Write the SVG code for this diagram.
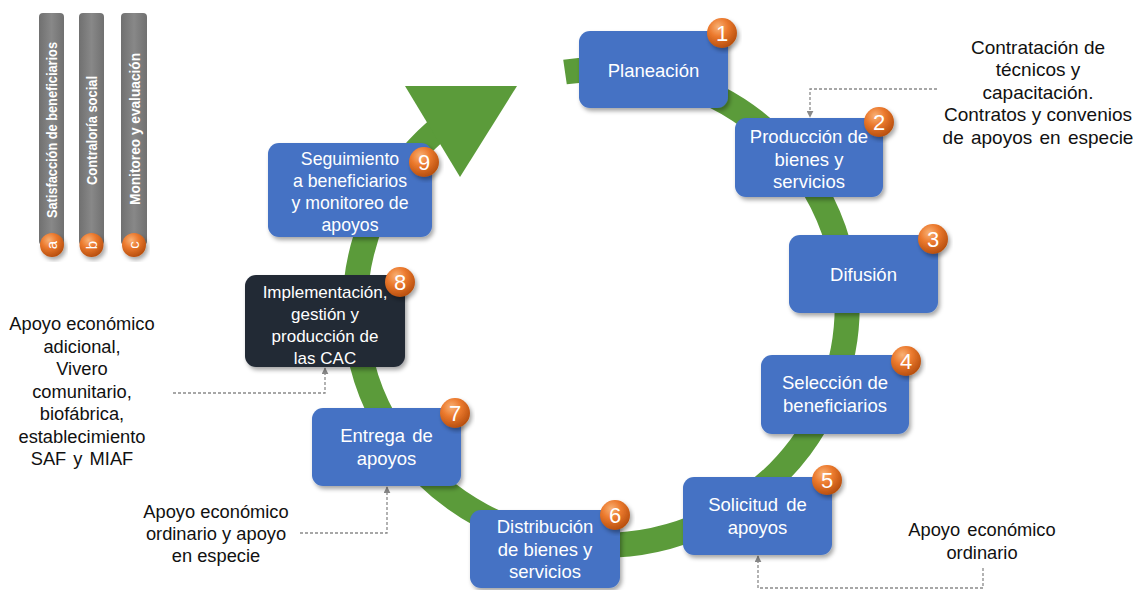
<svg xmlns="http://www.w3.org/2000/svg" width="1133" height="590" viewBox="0 0 1133 590">
<defs>
  <filter id="sh" x="-10%" y="-10%" width="125%" height="130%">
    <feDropShadow dx="2" dy="3" stdDeviation="2" flood-color="#000" flood-opacity="0.35"/>
  </filter>
  <radialGradient id="og" cx="38%" cy="30%" r="70%">
    <stop offset="0%" stop-color="#f8b276"/>
    <stop offset="45%" stop-color="#ec7a2e"/>
    <stop offset="100%" stop-color="#b9500f"/>
  </radialGradient>
  <linearGradient id="bg" x1="0" y1="0" x2="1" y2="0">
    <stop offset="0%" stop-color="#707070"/>
    <stop offset="50%" stop-color="#888888"/>
    <stop offset="100%" stop-color="#707070"/>
  </linearGradient>
  <marker id="ah" viewBox="0 0 10 10" refX="9" refY="5" markerWidth="7" markerHeight="7" orient="auto" markerUnits="userSpaceOnUse">
    <path d="M0,0 L10,5 L0,10 z" fill="#8a8a8a"/>
  </marker>
  <style>
    .box{fill:#4472c4;filter:url(#sh)}
    .dark{fill:#222a35;filter:url(#sh)}
    .nt{font-family:"Liberation Sans",Arial,sans-serif;font-size:18.5px;fill:#fff;text-anchor:middle}
    .s17{font-size:17px}
    .s175{font-size:17.7px}
    .lbl{font-family:"Liberation Sans",Arial,sans-serif;font-size:18.3px;fill:#111;text-anchor:middle}
    .lbr{font-size:19px}
    .bn{font-family:"Liberation Sans",Arial,sans-serif;font-size:22px;fill:#fff;text-anchor:middle}
    .badge{fill:url(#og);filter:url(#sh)}
    .dash{fill:none;stroke:#8a8a8a;stroke-width:1.3;stroke-dasharray:3 2}
    .bar{fill:url(#bg)}
    .bt{font-family:"Liberation Sans",Arial,sans-serif;font-size:14px;font-weight:bold;fill:#fff}
    .lt{font-family:"Liberation Sans",Arial,sans-serif;font-size:15px;fill:#fff;text-anchor:middle}
  </style>
</defs>
<rect width="1133" height="590" fill="#fff"/>

<g id="sidebars">
  <rect class="bar" x="39" y="13" width="25" height="232" rx="4"/>
  <rect class="bar" x="79" y="13" width="25" height="232" rx="4"/>
  <rect class="bar" x="121" y="13" width="26" height="232" rx="4"/>
  <text class="bt" transform="translate(57,218) rotate(-90)" textLength="176" lengthAdjust="spacingAndGlyphs">Satisfacción de beneficiarios</text>
  <text class="bt" transform="translate(97,185) rotate(-90)" textLength="109" lengthAdjust="spacingAndGlyphs">Contraloría social</text>
  <text class="bt" transform="translate(139.5,205) rotate(-90)" textLength="152" lengthAdjust="spacingAndGlyphs">Monitoreo y evaluación</text>
  <circle class="badge" cx="52" cy="245" r="12"/>
  <circle class="badge" cx="91.5" cy="245" r="12"/>
  <circle class="badge" cx="134" cy="245" r="12"/>
  <text class="lt" transform="translate(57,245) rotate(-90)">a</text>
  <text class="lt" transform="translate(96.5,245) rotate(-90)">b</text>
  <text class="lt" transform="translate(139,245) rotate(-90)">c</text>
</g>

<g id="cycle">
  <path d="M 565 72 A 246 238 0 1 1 436 131" fill="none" stroke="#5b9b3a" stroke-width="25"/>
  <polygon points="405,86 517,86 460,177" fill="#5b9b3a"/>
</g>

<g id="connectors">
  <path class="dash" d="M 937 89 H 810 V 117" marker-end="url(#ah)"/>
  <path class="dash" d="M 173 393 H 325 V 368" marker-end="url(#ah)"/>
  <path class="dash" d="M 300 533 H 387 V 487" marker-end="url(#ah)"/>
  <path class="dash" d="M 983 568 V 588 H 758 V 556" marker-end="url(#ah)"/>
</g>

<g id="n1">
  <rect class="box" x="579" y="31" width="149" height="77" rx="11"/>
  <text class="nt" x="653.5" y="77">Planeación</text>
  <circle class="badge" cx="722" cy="33" r="15"/>
  <text class="bn" x="722" y="41">1</text>
</g>
<g id="n2">
  <rect class="box" x="735" y="118" width="148" height="79" rx="11"/>
  <text class="nt" x="809" y="143">Producción de</text>
  <text class="nt" x="809" y="166">bienes y</text>
  <text class="nt" x="809" y="188">servicios</text>
  <circle class="badge" cx="879" cy="122" r="15"/>
  <text class="bn" x="879" y="130">2</text>
</g>
<g id="n3">
  <rect class="box" x="789" y="235" width="149" height="78" rx="11"/>
  <text class="nt" x="863.5" y="281">Difusión</text>
  <circle class="badge" cx="933" cy="239" r="15"/>
  <text class="bn" x="933" y="247">3</text>
</g>
<g id="n4">
  <rect class="box" x="761" y="355" width="148" height="79" rx="11"/>
  <text class="nt" x="835" y="389">Selección de</text>
  <text class="nt" x="835" y="412">beneficiarios</text>
  <circle class="badge" cx="906" cy="361" r="15"/>
  <text class="bn" x="906" y="369">4</text>
</g>
<g id="n5">
  <rect class="box" x="683" y="477" width="149" height="78" rx="11"/>
  <text class="nt" x="757.5" y="511" word-spacing="3">Solicitud de</text>
  <text class="nt" x="757.5" y="534">apoyos</text>
  <circle class="badge" cx="827" cy="480" r="15"/>
  <text class="bn" x="827" y="488">5</text>
</g>
<g id="n6">
  <rect class="box" x="470" y="510" width="150" height="78" rx="11"/>
  <text class="nt" x="545" y="533">Distribución</text>
  <text class="nt" x="545" y="556">de bienes y</text>
  <text class="nt" x="545" y="578">servicios</text>
  <circle class="badge" cx="615" cy="515" r="15"/>
  <text class="bn" x="615" y="523">6</text>
</g>
<g id="n7">
  <rect class="box" x="312" y="408" width="149" height="78" rx="11"/>
  <text class="nt" x="386.5" y="442" word-spacing="2">Entrega de</text>
  <text class="nt" x="386.5" y="465">apoyos</text>
  <circle class="badge" cx="455" cy="413" r="15"/>
  <text class="bn" x="455" y="421">7</text>
</g>
<g id="n8">
  <rect class="dark" x="245" y="275" width="160" height="92" rx="11"/>
  <text class="nt s17" x="325" y="298">Implementación,</text>
  <text class="nt s17" x="325" y="320">gestión y</text>
  <text class="nt s17" x="325" y="342">producción de</text>
  <text class="nt s17" x="325" y="364">las CAC</text>
  <circle class="badge" cx="400" cy="282" r="15"/>
  <text class="bn" x="400" y="290">8</text>
</g>
<g id="n9">
  <rect class="box" x="268" y="143" width="164" height="94" rx="11"/>
  <text class="nt s175" x="350" y="165">Seguimiento</text>
  <text class="nt s175" x="350" y="187">a beneficiarios</text>
  <text class="nt s175" x="350" y="209">y monitoreo de</text>
  <text class="nt s175" x="350" y="231">apoyos</text>
  <circle class="badge" cx="424" cy="162" r="15"/>
  <text class="bn" x="424" y="170">9</text>
</g>

<g id="labels">
  <text class="lbl lbr" x="1038" y="54">Contratación de</text>
  <text class="lbl lbr" x="1038" y="76">técnicos y</text>
  <text class="lbl lbr" x="1038" y="99">capacitación.</text>
  <text class="lbl lbr" x="1038" y="121">Contratos y convenios</text>
  <text class="lbl lbr" x="1038" y="144" word-spacing="2">de apoyos en especie</text>

  <text class="lbl" x="82" y="330">Apoyo económico</text>
  <text class="lbl" x="82" y="353">adicional,</text>
  <text class="lbl" x="82" y="375">Vivero</text>
  <text class="lbl" x="82" y="398">comunitario,</text>
  <text class="lbl" x="82" y="420">biofábrica,</text>
  <text class="lbl" x="82" y="443">establecimiento</text>
  <text class="lbl" x="82" y="465" word-spacing="2">SAF y MIAF</text>

  <text class="lbl" x="216" y="518">Apoyo económico</text>
  <text class="lbl" x="216" y="540">ordinario y apoyo</text>
  <text class="lbl" x="216" y="562">en especie</text>

  <text class="lbl" x="982" y="536" word-spacing="2">Apoyo económico</text>
  <text class="lbl" x="982" y="559">ordinario</text>
</g>
</svg>
